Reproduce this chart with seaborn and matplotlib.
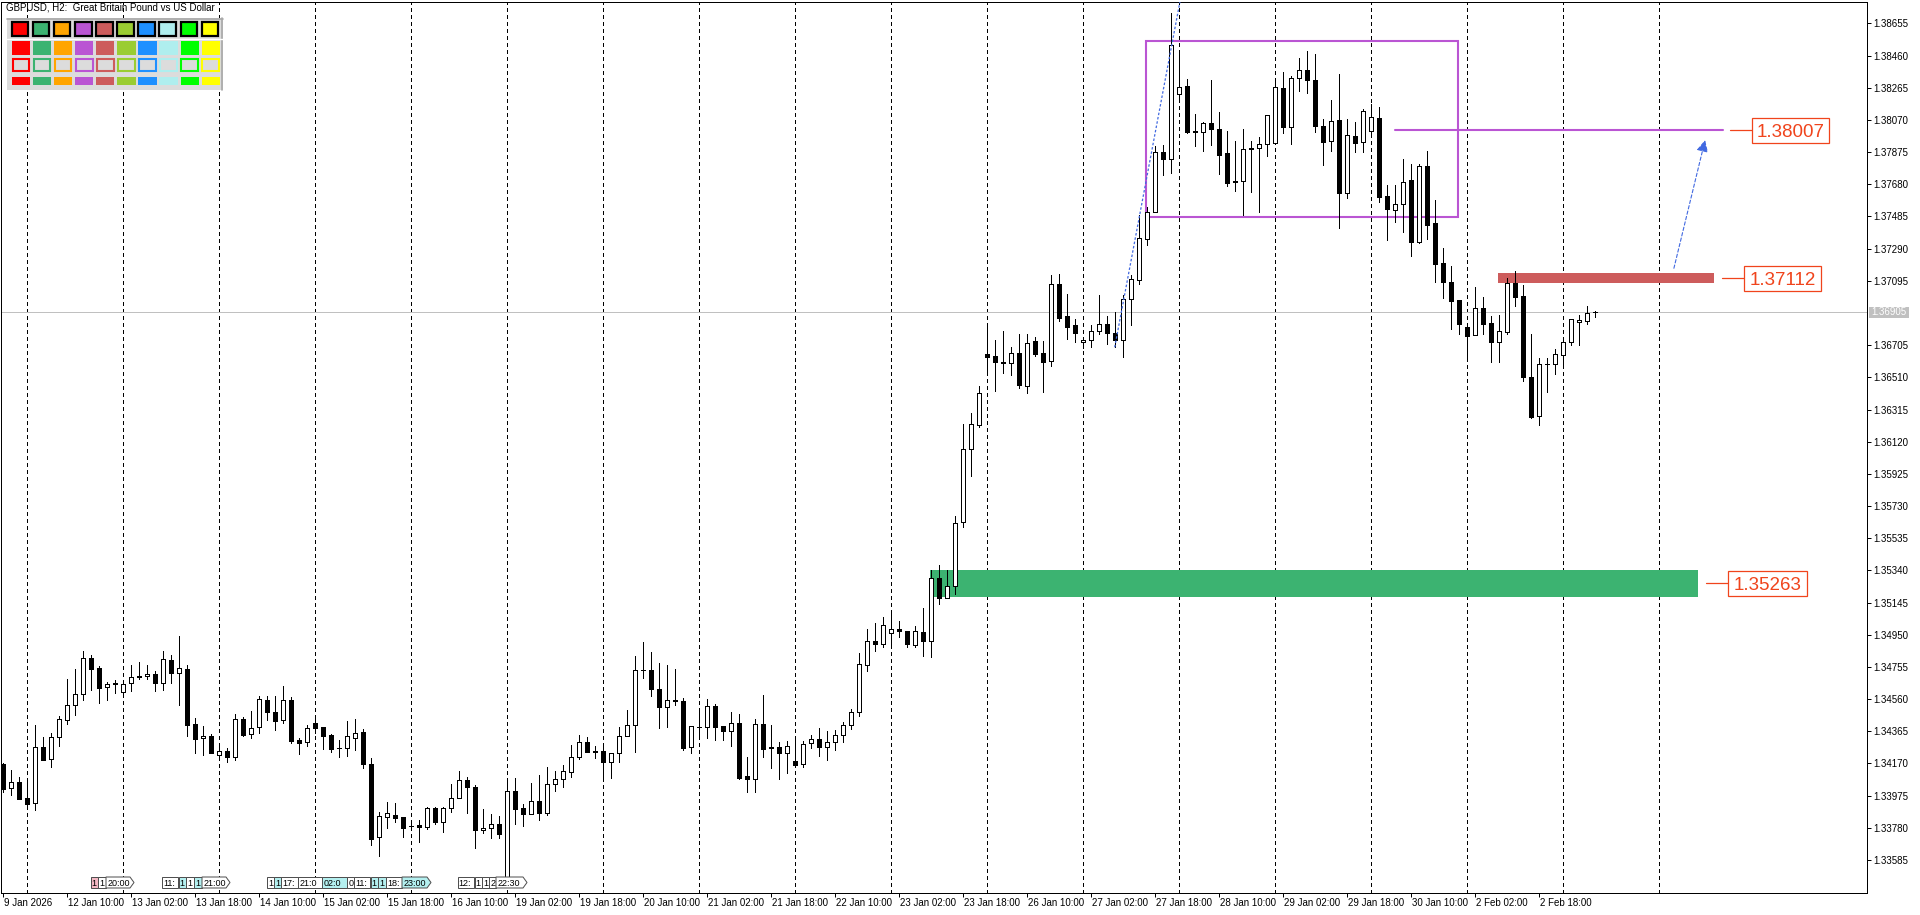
import numpy as np
import pandas as pd
import matplotlib
matplotlib.use("Agg")
import matplotlib.pyplot as plt
import matplotlib.transforms as mtrans
from matplotlib.patches import Rectangle, Polygon
import seaborn as sns

# 📌 Bougies GBPUSD H2 (bougie 0 = 9 Jan 18:00, une bougie toutes les 2 h, sans week-end)
OPEN = [1.34167, 1.34019, 1.34056, 1.33961, 1.33928, 1.34270, 1.34195, 1.34328, 1.34431, 1.34522,
        1.34589, 1.34807, 1.34749, 1.34631, 1.34658, 1.34601, 1.34656, 1.34694, 1.34698, 1.34712,
        1.34656, 1.34797, 1.34716, 1.34742, 1.34409, 1.34322, 1.34336, 1.34219, 1.34244, 1.34211,
        1.34440, 1.34347, 1.34389, 1.34555, 1.34482, 1.34431, 1.34555, 1.34312, 1.34302, 1.34413,
        1.34391, 1.34343, 1.34264, 1.34262, 1.34322, 1.34359, 1.34167, 1.33722, 1.33848, 1.33856,
        1.33846, 1.33793, 1.33797, 1.33783, 1.33898, 1.33813, 1.33898, 1.33959, 1.34068, 1.34025,
        1.33767, 1.33777, 1.33801, 1.33472, 1.34001, 1.33898, 1.33866, 1.33940, 1.33872, 1.34043,
        1.34074, 1.34120, 1.34207, 1.34298, 1.34243, 1.34243, 1.34181, 1.34231, 1.34336, 1.34405,
        1.34736, 1.34736, 1.34621, 1.34514, 1.34554, 1.34546, 1.34268, 1.34391, 1.34391, 1.34516,
        1.34397, 1.34365, 1.34413, 1.34094, 1.34078, 1.34407, 1.34268, 1.34268, 1.34235, 1.34183,
        1.34165, 1.34292, 1.34316, 1.34272, 1.34298, 1.34340, 1.34400, 1.34480, 1.34765, 1.34910,
        1.34894, 1.34962, 1.34983, 1.34970, 1.34886, 1.34965, 1.34910, 1.35291, 1.35175, 1.35244,
        1.35635, 1.36074, 1.36224, 1.36650, 1.36639, 1.36602, 1.36594, 1.36660, 1.36455, 1.36728,
        1.36655, 1.36608, 1.37075, 1.36881, 1.36826, 1.36726, 1.36739, 1.36792, 1.36834, 1.36778,
        1.36739, 1.36983, 1.37102, 1.37351, 1.37512, 1.37877, 1.37831, 1.38227, 1.38274, 1.38001,
        1.37995, 1.38049, 1.38013, 1.37868, 1.37698, 1.37698, 1.37894, 1.37898, 1.37922, 1.37928,
        1.38262, 1.38025, 1.38322, 1.38371, 1.38310, 1.38033, 1.37940, 1.38070, 1.37629, 1.37971,
        1.37934, 1.38001, 1.38082, 1.37609, 1.37522, 1.37559, 1.37704, 1.37332, 1.37791, 1.37443,
        1.37201, 1.37086, 1.36979, 1.36813, 1.36765, 1.36928, 1.36837, 1.36722, 1.36787, 1.37084,
        1.37003, 1.36514, 1.36276, 1.36589, 1.36589, 1.36646, 1.36722, 1.36848, 1.36852, 1.36908]
HIGH = [1.34175, 1.34130, 1.34090, 1.34060, 1.34403, 1.34330, 1.34355, 1.34458, 1.34682, 1.34742,
        1.34852, 1.34827, 1.34761, 1.34666, 1.34676, 1.34656, 1.34767, 1.34785, 1.34765, 1.34730,
        1.34852, 1.34827, 1.34942, 1.34765, 1.34446, 1.34397, 1.34349, 1.34276, 1.34264, 1.34470,
        1.34450, 1.34490, 1.34579, 1.34579, 1.34579, 1.34639, 1.34571, 1.34326, 1.34403, 1.34454,
        1.34391, 1.34349, 1.34312, 1.34427, 1.34440, 1.34377, 1.34203, 1.33876, 1.33936, 1.33930,
        1.33846, 1.33827, 1.33827, 1.33904, 1.33904, 1.33908, 1.34045, 1.34124, 1.34086, 1.34037,
        1.33894, 1.33862, 1.33851, 1.34070, 1.34080, 1.33924, 1.34049, 1.34100, 1.34146, 1.34122,
        1.34161, 1.34282, 1.34342, 1.34330, 1.34278, 1.34272, 1.34231, 1.34393, 1.34494, 1.34821,
        1.34908, 1.34847, 1.34781, 1.34767, 1.34742, 1.34567, 1.34397, 1.34494, 1.34561, 1.34530,
        1.34397, 1.34482, 1.34470, 1.34211, 1.34437, 1.34585, 1.34403, 1.34300, 1.34308, 1.34318,
        1.34308, 1.34342, 1.34387, 1.34367, 1.34370, 1.34420, 1.34500, 1.34839, 1.34983, 1.35020,
        1.35057, 1.35075, 1.35036, 1.34970, 1.35004, 1.35115, 1.35344, 1.35372, 1.35344, 1.35669,
        1.36226, 1.36292, 1.36455, 1.36818, 1.36739, 1.36792, 1.36692, 1.36770, 1.36770, 1.36752,
        1.36731, 1.37133, 1.37138, 1.37015, 1.36862, 1.36752, 1.36826, 1.37010, 1.36884, 1.36907,
        1.37007, 1.37128, 1.37493, 1.37540, 1.37911, 1.37919, 1.38720, 1.38490, 1.38316, 1.38106,
        1.38058, 1.38312, 1.38118, 1.38003, 1.37942, 1.38015, 1.37942, 1.37967, 1.38098, 1.38312,
        1.38361, 1.38336, 1.38445, 1.38488, 1.38472, 1.38076, 1.38191, 1.38348, 1.38076, 1.38058,
        1.38136, 1.38167, 1.38146, 1.37676, 1.37676, 1.37831, 1.37801, 1.37801, 1.37882, 1.37585,
        1.37292, 1.37185, 1.36979, 1.36817, 1.37056, 1.36999, 1.36884, 1.36886, 1.37110, 1.37155,
        1.37070, 1.36773, 1.36625, 1.36625, 1.36680, 1.36743, 1.36866, 1.36888, 1.36942, 1.36910]
LOW = [1.33999, 1.33979, 1.33957, 1.33898, 1.33888, 1.34193, 1.34151, 1.34278, 1.34411, 1.34466,
       1.34557, 1.34615, 1.34538, 1.34557, 1.34595, 1.34579, 1.34611, 1.34680, 1.34682, 1.34611,
       1.34615, 1.34660, 1.34526, 1.34336, 1.34235, 1.34223, 1.34231, 1.34191, 1.34181, 1.34191,
       1.34336, 1.34326, 1.34353, 1.34433, 1.34373, 1.34417, 1.34292, 1.34227, 1.34276, 1.34353,
       1.34258, 1.34242, 1.34211, 1.34217, 1.34252, 1.34145, 1.33678, 1.33611, 1.33779, 1.33817,
       1.33726, 1.33767, 1.33696, 1.33771, 1.33801, 1.33753, 1.33878, 1.33959, 1.33872, 1.33656,
       1.33746, 1.33720, 1.33720, 1.33464, 1.33803, 1.33793, 1.33866, 1.33827, 1.33858, 1.34003,
       1.34029, 1.34090, 1.34195, 1.34241, 1.34201, 1.34080, 1.34084, 1.34181, 1.34336, 1.34241,
       1.34686, 1.34579, 1.34383, 1.34389, 1.34522, 1.34251, 1.34235, 1.34322, 1.34322, 1.34312,
       1.34312, 1.34276, 1.34078, 1.33999, 1.33999, 1.34211, 1.34144, 1.34078, 1.34114, 1.34163,
       1.34150, 1.34266, 1.34217, 1.34191, 1.34250, 1.34300, 1.34380, 1.34460, 1.34729, 1.34849,
       1.34873, 1.34884, 1.34939, 1.34873, 1.34878, 1.34821, 1.34813, 1.35136, 1.35173, 1.35194,
       1.35604, 1.35914, 1.36208, 1.36542, 1.36429, 1.36539, 1.36523, 1.36445, 1.36418, 1.36642,
       1.36424, 1.36576, 1.36849, 1.36744, 1.36726, 1.36686, 1.36692, 1.36770, 1.36710, 1.36692,
       1.36634, 1.36826, 1.37075, 1.37309, 1.37512, 1.37738, 1.37750, 1.38191, 1.37989, 1.37914,
       1.37884, 1.37918, 1.37742, 1.37672, 1.37641, 1.37496, 1.37635, 1.37514, 1.37853, 1.37928,
       1.37993, 1.37924, 1.38247, 1.38235, 1.37999, 1.37799, 1.37884, 1.37417, 1.37595, 1.37878,
       1.37878, 1.37969, 1.37575, 1.37342, 1.37453, 1.37393, 1.37248, 1.37322, 1.37349, 1.37090,
       1.36993, 1.36801, 1.36775, 1.36615, 1.36765, 1.36773, 1.36601, 1.36605, 1.36773, 1.36942,
       1.36490, 1.36262, 1.36221, 1.36423, 1.36528, 1.36589, 1.36704, 1.36704, 1.36833, 1.36878]
CLOSE = [1.34013, 1.34056, 1.33957, 1.33926, 1.34270, 1.34193, 1.34330, 1.34440, 1.34522, 1.34589,
         1.34807, 1.34744, 1.34629, 1.34650, 1.34650, 1.34650, 1.34692, 1.34698, 1.34710, 1.34660,
         1.34801, 1.34716, 1.34747, 1.34405, 1.34320, 1.34336, 1.34235, 1.34244, 1.34211, 1.34437,
         1.34343, 1.34385, 1.34559, 1.34484, 1.34429, 1.34553, 1.34308, 1.34296, 1.34385, 1.34387,
         1.34339, 1.34260, 1.34262, 1.34334, 1.34353, 1.34167, 1.33714, 1.33850, 1.33868, 1.33842,
         1.33781, 1.33789, 1.33783, 1.33898, 1.33813, 1.33898, 1.33959, 1.34068, 1.34025, 1.33765,
         1.33779, 1.33801, 1.33740, 1.34001, 1.33894, 1.33864, 1.33940, 1.33872, 1.34045, 1.34074,
         1.34122, 1.34207, 1.34298, 1.34241, 1.34241, 1.34181, 1.34231, 1.34336, 1.34403, 1.34736,
         1.34734, 1.34619, 1.34514, 1.34554, 1.34546, 1.34266, 1.34397, 1.34393, 1.34516, 1.34393,
         1.34365, 1.34413, 1.34084, 1.34078, 1.34407, 1.34260, 1.34264, 1.34235, 1.34276, 1.34163,
         1.34286, 1.34316, 1.34272, 1.34298, 1.34340, 1.34400, 1.34480, 1.34773, 1.34910, 1.34891,
         1.35007, 1.34983, 1.34970, 1.34894, 1.34970, 1.34915, 1.35291, 1.35173, 1.35244, 1.35630,
         1.36074, 1.36226, 1.36418, 1.36634, 1.36605, 1.36594, 1.36660, 1.36463, 1.36718, 1.36652,
         1.36605, 1.37075, 1.36870, 1.36818, 1.36781, 1.36739, 1.36792, 1.36834, 1.36776, 1.36739,
         1.36983, 1.37104, 1.37354, 1.37512, 1.37877, 1.37835, 1.38522, 1.38268, 1.37999, 1.37995,
         1.38049, 1.38013, 1.37860, 1.37690, 1.37692, 1.37892, 1.37898, 1.37922, 1.38098, 1.38268,
         1.38029, 1.38322, 1.38371, 1.38314, 1.38035, 1.37938, 1.38064, 1.37629, 1.37977, 1.37932,
         1.38124, 1.38086, 1.37605, 1.37528, 1.37559, 1.37692, 1.37332, 1.37791, 1.37435, 1.37199,
         1.37090, 1.36975, 1.36835, 1.36759, 1.36928, 1.36835, 1.36722, 1.36789, 1.37084, 1.36999,
         1.36510, 1.36272, 1.36589, 1.36593, 1.36650, 1.36722, 1.36862, 1.36856, 1.36898, 1.36905]

# 📌 Axes (une étiquette de temps toutes les 8 bougies)
X_LABELS = ["9 Jan 2026", "12 Jan 10:00", "13 Jan 02:00", "13 Jan 18:00", "14 Jan 10:00",
            "15 Jan 02:00", "15 Jan 18:00", "16 Jan 10:00", "19 Jan 02:00", "19 Jan 18:00",
            "20 Jan 10:00", "21 Jan 02:00", "21 Jan 18:00", "22 Jan 10:00", "23 Jan 02:00",
            "23 Jan 18:00", "26 Jan 10:00", "27 Jan 02:00", "27 Jan 18:00", "28 Jan 10:00",
            "29 Jan 02:00", "29 Jan 18:00", "30 Jan 10:00", "2 Feb 02:00", "2 Feb 18:00"]
Y_LABELS = ["1.38655", "1.38460", "1.38265", "1.38070", "1.37875", "1.37680", "1.37485",
            "1.37290", "1.37095", "1.36705", "1.36510", "1.36315", "1.36120", "1.35925",
            "1.35730", "1.35535", "1.35340", "1.35145", "1.34950", "1.34755", "1.34560",
            "1.34365", "1.34170", "1.33975", "1.33780", "1.33585"]
LAST_PRICE = 1.36905

# 📌 Objets dessinés sur le graphique
LEVELS = [1.38007, 1.37112, 1.35263]
BOX_X = [142.9, 181.9]
BOX_Y = [1.37482, 1.38548]
GREEN_X = [115.9, 211.9]
GREEN_Y = [1.35181, 1.35341]
RED_X = [186.9, 213.9]
RED_Y = [1.37084, 1.37144]
PURPLE_LINE_X = [174.0, 215.0]
TREND_X = [139.0, 147.4]
TREND_Y = [1.36692, 1.38850]
ARROW_X = [208.9, 212.8]
ARROW_Y = [1.37171, 1.37948]
PALETTE = ["#FF0000", "#3CB371", "#FFA500", "#BA55D3", "#CD5C5C",
           "#9ACD32", "#1E90FF", "#AFEEEE", "#00FF00", "#FFFF00"]

# géométrie de la fenêtre (pixels)
W, H = 1920, 915
AX_L, AX_R, AX_T, AX_B = 1, 1867, 2, 893
BAR_PX, BAR0_PX = 8.0, 2.7
P_REF, Y_REF, PX_PER_UNIT = 1.37112, 278.0, 16500.0
LW = 0.72  # 1 px
ORANGE = "#F0441C"
BLUE = "#4169E1"
PURPLE = "#BA55D3"


def bar_of(px):
    return (px - BAR0_PX) / BAR_PX


def price_of(py):
    return P_REF - (py - Y_REF) / PX_PER_UNIT


sns.set_style("white")
plt.rcParams["font.family"] = ["Liberation Sans", "DejaVu Sans"]

df = pd.DataFrame({"o": OPEN, "h": HIGH, "l": LOW, "c": CLOSE})
df["x"] = np.arange(len(df))
up = df["c"] >= df["o"]

fig = plt.figure(figsize=(W / 100, H / 100), dpi=100)
fig.patch.set_facecolor("white")
ax = fig.add_axes([AX_L / W, 1 - AX_B / H, (AX_R - AX_L) / W, (AX_B - AX_T) / H])
ax.set_facecolor("white")
ax.set_xlim(bar_of(AX_L), bar_of(AX_R))
ax.set_ylim(price_of(AX_B), price_of(AX_T))
PX = mtrans.Affine2D().scale(1 / W, -1 / H).translate(0, 1) + fig.transFigure

# 📊 Grille verticale (début de chaque jour)
for d in range(3, 208, 12):
    ax.axvline(d, color="black", lw=LW, linestyle=(0, (3, 3)), zorder=1, antialiased=False)

# ligne du dernier prix
ax.axhline(LAST_PRICE, color="#C0C0C0", lw=LW, zorder=1.5)

# zones et rectangle
ax.add_patch(Rectangle((GREEN_X[0], GREEN_Y[0]), GREEN_X[1] - GREEN_X[0], GREEN_Y[1] - GREEN_Y[0],
                       fc="#3CB371", ec="none", zorder=2))
ax.add_patch(Rectangle((RED_X[0], RED_Y[0]), RED_X[1] - RED_X[0], RED_Y[1] - RED_Y[0],
                       fc="#CD5C5C", ec="none", zorder=2))
ax.add_patch(Rectangle((BOX_X[0], BOX_Y[0]), BOX_X[1] - BOX_X[0], BOX_Y[1] - BOX_Y[0],
                       fc="none", ec=PURPLE, lw=1.5, zorder=2))
ax.plot(PURPLE_LINE_X, [LEVELS[0], LEVELS[0]], color=PURPLE, lw=1.5, zorder=2)

# 📊 Bougies
ax.vlines(df["x"], df["l"], df["h"], color="black", lw=LW, zorder=3, antialiased=False)
hgt = (df["c"] - df["o"]).abs().clip(lower=1e-7)
ax.bar(df["x"][up], hgt[up], bottom=df["o"][up], width=0.5, color="white",
       edgecolor="black", linewidth=LW, zorder=4, antialiased=False)
ax.bar(df["x"][~up], hgt[~up], bottom=df["c"][~up], width=0.5, color="black",
       edgecolor="black", linewidth=LW, zorder=4, antialiased=False)

# ligne de tendance pointillée et flèche
sns.lineplot(x=TREND_X, y=TREND_Y, ax=ax, color=BLUE, lw=0.9, linestyle=(0, (2, 1.5)),
             sort=False, estimator=None, zorder=5)
ax.annotate("", xy=(ARROW_X[1], ARROW_Y[1]), xytext=(ARROW_X[0], ARROW_Y[0]),
            arrowprops=dict(arrowstyle="-|>,head_length=0.5,head_width=0.25", color=BLUE,
                            lw=0.8, linestyle=(0, (3, 2)), shrinkA=0, shrinkB=0,
                            mutation_scale=14), zorder=5)

# étiquettes de niveaux
LABEL_PX = [(1730, 1752, 1829), (1722, 1744, 1821), (1706, 1728, 1807)]
hh = 12.5 / PX_PER_UNIT
for p, (l0, b0, b1) in zip(LEVELS, LABEL_PX):
    ax.plot([bar_of(l0), bar_of(b0)], [p, p], color=ORANGE, lw=0.9, zorder=6)
    ax.add_patch(Rectangle((bar_of(b0), p - hh), bar_of(b1) - bar_of(b0), 2 * hh,
                           fc="white", ec=ORANGE, lw=0.9, zorder=6))
    ax.text((bar_of(b0) + bar_of(b1)) / 2, p - 6.7 / PX_PER_UNIT, f"{p:.5f}",
            color=ORANGE, fontsize=13.5, ha="center", va="baseline", zorder=7)

# 📌 Axes et étiquettes
for s in ax.spines.values():
    s.set_color("black")
    s.set_linewidth(LW)
ax.yaxis.tick_right()
ax.set_yticks([float(s) for s in Y_LABELS])
ax.set_yticklabels(Y_LABELS)
ax.set_xticks(np.arange(0, 8 * len(X_LABELS), 8))
ax.set_xticklabels(X_LABELS)
ax.tick_params(axis="y", left=False, right=True, direction="out", length=2.9, width=LW,
               pad=1.5, labelsize=7, colors="black")
ax.tick_params(axis="x", bottom=True, direction="out", length=2.9, width=LW,
               pad=1.0, labelsize=7, colors="black")
off = mtrans.ScaledTranslation(1.5 / 100, 0, fig.dpi_scale_trans)
for lab in ax.get_xticklabels():
    lab.set_horizontalalignment("left")
    lab.set_transform(lab.get_transform() + off)
ax.set_xlabel("")
ax.set_ylabel("")

# étiquette du dernier prix
yc = Y_REF + (P_REF - LAST_PRICE) * PX_PER_UNIT
fig.add_artist(Rectangle((1869, yc - 5.5), 40, 11, transform=PX, fc="#C0C0C0", ec="none"))
fig.text(1889, yc, f"{LAST_PRICE:.5f}", transform=PX, color="white", fontsize=7,
         ha="center", va="center")

# titre en haut à gauche
fig.text(6, 3, "GBPUSD, H2:  Great Britain Pound vs US Dollar", transform=PX,
         fontsize=7, ha="left", va="top", color="black")

# palette de couleurs
fig.add_artist(Rectangle((7.3, 18.3), 215.4, 71.7, transform=PX, fc="#DCDCDC", ec="none"))
fig.add_artist(plt.Line2D([7.3, 222.7], [18.8, 18.8], transform=PX, color="#A8A8A8", lw=1.2))
fig.add_artist(plt.Line2D([222.2, 222.2], [18.3, 90], transform=PX, color="#A8A8A8", lw=1.2))
fig.add_artist(plt.Line2D([7.3, 222.7], [38.5, 38.5], transform=PX, color="white", lw=1))
for k, col in enumerate(PALETTE):
    x = 11.7 + 21.1 * k
    fig.add_artist(Rectangle((x, 22.2), 16.5, 13.8, transform=PX, fc=col, ec="black", lw=1.6))
    fig.add_artist(Rectangle((x, 40.7), 18.3, 14.3, transform=PX, fc=col, ec="none"))
    fig.add_artist(Rectangle((x + 0.8, 58.7), 16.7, 12.6, transform=PX, fc="#DCDCDC", ec=col, lw=1.5))
    fig.add_artist(Rectangle((x, 76.7), 18.3, 8.3, transform=PX, fc=col, ec="none"))

# marqueurs d'événements en bas
PINK, CYAN, WHITE = "#F4B8C4", "#B4F0F0", "white"
EVENTS = [(90.6, 7, "1", PINK, False), (98, 7.5, "1", WHITE, False), (106, 28, "20:00", WHITE, True),
          (162, 16, "11:", WHITE, False), (178.6, 7, "1", CYAN, False), (186, 7.5, "1", WHITE, False),
          (194, 7.5, "1", CYAN, False), (202, 28, "21:00", WHITE, True),
          (267, 6.5, "1", WHITE, False), (274, 6.5, "1", CYAN, False), (281, 16.5, "17:", WHITE, False),
          (298, 24, "21:0", WHITE, False), (322, 24.5, "02:0", CYAN, False), (347, 7, "0", WHITE, False),
          (354, 16, "11:", WHITE, False), (370.5, 7, "1", CYAN, False), (378, 7.5, "1", CYAN, False),
          (386, 15.5, "18:", WHITE, False), (402, 29, "23:00", CYAN, True),
          (457.6, 16.5, "12:", WHITE, False), (474.5, 7, "1", WHITE, False), (482, 6.5, "1", WHITE, False),
          (489, 6.5, "2", WHITE, False), (496, 31, "22:30", WHITE, True)]
y0, y1 = 877, 888
for x, w, txt, fc, arrow in EVENTS:
    if arrow:
        pts = [(x, y0), (x + w - 4, y0), (x + w, (y0 + y1) / 2), (x + w - 4, y1), (x, y1)]
    else:
        pts = [(x, y0), (x + w, y0), (x + w, y1), (x, y1)]
    fig.add_artist(Polygon(pts, closed=True, transform=PX, fc=fc, ec="#505050", lw=LW))
    fig.text(x + 1.2, (y0 + y1) / 2 + 0.5, txt, transform=PX, fontsize=6.5,
             ha="left", va="center", color="black")

fig.savefig("out.png", dpi=100, facecolor="white")
